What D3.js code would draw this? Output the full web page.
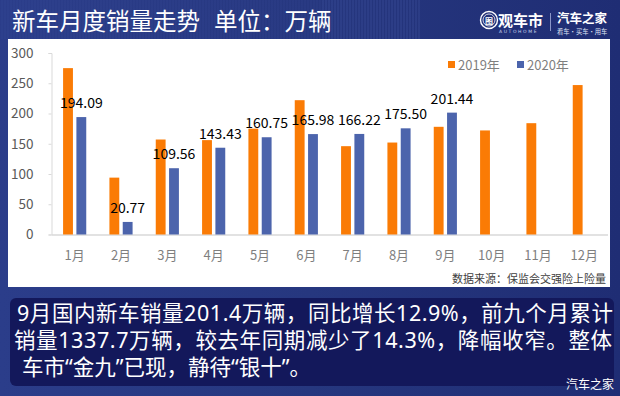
<!DOCTYPE html>
<html><head><meta charset="utf-8">
<script src="https://cdn.jsdelivr.net/npm/d3@7"></script>
<style>html,body{margin:0;padding:0;background:#22337c;}svg{display:block;}</style>
</head><body>
<script>
const months = ["1月","2月","3月","4月","5月","6月","7月","8月","9月","10月","11月","12月"];
const sales2019 = [275, 94, 157, 156, 175, 222, 146, 152, 178, 172, 184, 247];
const sales2020 = [194.09, 20.77, 109.56, 143.43, 160.75, 165.98, 166.22, 175.50, 201.44];
const labels2020 = ["194.09","20.77","109.56","143.43","160.75","165.98","166.22","175.50","201.44"];
const seriesNames = ["2019年","2020年"];
const yTicks = [0, 50, 100, 150, 200, 250, 300];
const titleParts = ["新车月度销量走势", "单位：万辆"];
const sourceText = "数据来源：保监会交强险上险量";
const bodyLines = [
  "9月国内新车销量201.4万辆，同比增长12.9%，前九个月累计",
  "销量1337.7万辆，较去年同期减少了14.3%，降幅收窄。整体",
  "车市“金九”已现，静待“银十”。"
];

const W = 620, H = 396;
const ORANGE = "#FA7B05", BLUE = "#4C64AC";
const FONT = "'Noto Sans CJK SC','Noto Sans',sans-serif";
const FONT_BODY = "'Noto Sans','Noto Sans CJK SC',sans-serif";

const svg = d3.select("body").append("svg").attr("width", W).attr("height", H);
const defs = svg.append("defs");
const bg = defs.append("linearGradient").attr("id","bg").attr("x1","0").attr("x2","1").attr("y1","0").attr("y2","0");
bg.append("stop").attr("offset","0").attr("stop-color","#2b3d8a");
bg.append("stop").attr("offset","0.5").attr("stop-color","#26377f");
bg.append("stop").attr("offset","1").attr("stop-color","#1f2d74");
svg.append("rect").attr("width",W).attr("height",H).attr("fill","url(#bg)");

// header stripes decoration
const stripes = d3.range(2, 420, 3);
svg.append("g").selectAll("line").data(stripes).join("line")
  .attr("x1", d => d).attr("x2", d => d).attr("y1", 0).attr("y2", 39)
  .attr("stroke", "#4356a3").attr("stroke-width", 1)
  .attr("opacity", d => d > 320 ? 0.55 : 0.25);

// title
const title = svg.append("text").attr("x", 12).attr("y", 30).attr("fill", "#ffffff")
  .attr("font-family", FONT).attr("font-size", 23.5);
title.append("tspan").text(titleParts[0]);
title.append("tspan").attr("dx", 14).text(titleParts[1]);

// logos
const logo = svg.append("g");
logo.append("circle").attr("cx", 489).attr("cy", 20).attr("r", 8.5).attr("fill","none").attr("stroke","#fff").attr("stroke-width",1.4);
logo.append("circle").attr("cx", 489).attr("cy", 20).attr("r", 6).attr("fill","none").attr("stroke","#fff").attr("stroke-width",0.8);
logo.append("text").attr("x", 489).attr("y", 23.5).attr("text-anchor","middle").attr("fill","#fff").attr("font-family",FONT).attr("font-size",8).attr("font-weight","bold").text("图");
logo.append("text").attr("x", 498).attr("y", 26).attr("fill","#fff").attr("font-family",FONT).attr("font-size",15).attr("font-weight","bold").text("观车市");
logo.append("text").attr("x", 499).attr("y", 33).attr("fill","#c8d0ea").attr("font-family","'DejaVu Sans',sans-serif").attr("font-size",4.5).attr("letter-spacing",1.6).text("AUTOHOME");
logo.append("line").attr("x1",550.5).attr("x2",550.5).attr("y1",13).attr("y2",31).attr("stroke","#8a96c8").attr("stroke-width",1);
logo.append("text").attr("x", 557).attr("y", 22.5).attr("fill","#fff").attr("font-family",FONT).attr("font-size",12.5).attr("font-weight","bold").text("汽车之家");
logo.append("text").attr("x", 557).attr("y", 34).attr("fill","#dfe4f4").attr("font-family",FONT).attr("font-size",6.3).text("看车·买车·用车");

// white panel
svg.append("rect").attr("x", 8).attr("y", 39).attr("width", 602).attr("height", 248).attr("fill", "#ffffff");

// scales
const x0 = d3.scaleBand().domain(months).range([51.5, 607.5]).paddingInner(0.5).paddingOuter(0.25);
const x1 = d3.scaleBand().domain(seriesNames).range([0, x0.bandwidth()]).paddingInner(0.26);
const y = d3.scaleLinear().domain([0, 300]).range([234.5, 53]);

// y axis
const yAxis = svg.append("g").attr("transform", "translate(51.5,0)")
  .call(d3.axisLeft(y).tickValues(yTicks).tickSize(3).tickPadding(15));
yAxis.select(".domain").attr("stroke", "#d9d9d9");
yAxis.selectAll(".tick line").attr("stroke", "#d9d9d9");
yAxis.selectAll(".tick text").attr("fill", "#595959").attr("font-family", FONT).attr("font-size", 13.5);

// baseline / x axis
const xAxis = svg.append("g").attr("transform", `translate(0,${y(0)})`)
  .call(d3.axisBottom(x0).tickSize(0).tickPadding(16));
xAxis.select(".domain").attr("stroke", "#d9d9d9").attr("stroke-width", 1.5);
xAxis.selectAll(".tick text").attr("fill", "#7f7f7f").attr("font-family", FONT).attr("font-size", 13);

// bars
const g = svg.append("g");
g.selectAll("rect.b19").data(sales2019).join("rect").attr("class","b19")
  .attr("x", (d, i) => x0(months[i]) + x1(seriesNames[0]))
  .attr("y", d => y(d)).attr("width", x1.bandwidth()).attr("height", d => y(0) - y(d))
  .attr("fill", ORANGE);
g.selectAll("rect.b20").data(sales2020).join("rect").attr("class","b20")
  .attr("x", (d, i) => x0(months[i]) + x1(seriesNames[1]))
  .attr("y", d => y(d)).attr("width", x1.bandwidth()).attr("height", d => y(0) - y(d))
  .attr("fill", BLUE);

// data labels
g.selectAll("text.lab").data(sales2020).join("text").attr("class","lab")
  .attr("x", (d, i) => x0(months[i]) + x1(seriesNames[1]) + x1.bandwidth() / 2)
  .attr("y", d => y(d) - 9)
  .attr("text-anchor", "middle").attr("fill", "#000").attr("font-family", FONT).attr("font-size", 14)
  .text((d, i) => labels2020[i]);

// legend
const lg = svg.append("g");
const legX = [448, 517];
seriesNames.forEach((s, i) => {
  lg.append("rect").attr("x", legX[i]).attr("y", 61).attr("width", 7).attr("height", 7).attr("fill", i ? BLUE : ORANGE);
  lg.append("text").attr("x", legX[i] + 10).attr("y", 69.5).attr("fill", "#7f7f7f")
    .attr("font-family", FONT).attr("font-size", 13).text(s);
});

// source
svg.append("text").attr("x", 606).attr("y", 283).attr("text-anchor", "end").attr("fill", "#404040")
  .attr("font-family", FONT).attr("font-size", 11).text(sourceText);

// body text box
svg.append("rect").attr("x", 10).attr("y", 298).attr("width", 604).attr("height", 88).attr("rx", 6).attr("fill", "#13185b");
const lineX = [17, 14, 22];
const lineY = [321, 348, 375];
const lineLen = [596, 598, null];
svg.append("g").selectAll("text").data(bodyLines).join("text")
  .attr("x", (d, i) => lineX[i]).attr("y", (d, i) => lineY[i]).attr("fill", "#ffffff")
  .attr("font-family", FONT_BODY).attr("font-size", 21.5)
  .each(function(d, i) {
    if (lineLen[i]) d3.select(this).attr("textLength", lineLen[i]).attr("lengthAdjust", "spacing");
  })
  .text(d => d);

// watermark
svg.append("text").attr("x", 614).attr("y", 389).attr("text-anchor", "end").attr("fill", "#ffffff")
  .attr("font-family", FONT).attr("font-size", 12).text("汽车之家");
</script>
</body></html>
